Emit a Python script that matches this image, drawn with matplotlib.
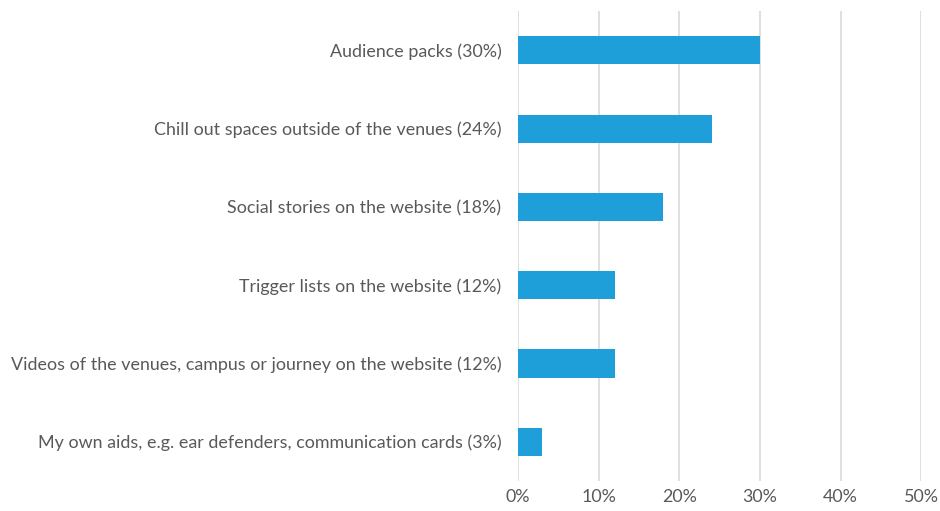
import matplotlib.pyplot as plt
from matplotlib.ticker import PercentFormatter

plt.rcParams['font.family'] = ['Lato', 'DejaVu Sans']

# data
categories = [
    'Audience packs (30%)',
    'Chill out spaces outside of the venues (24%)',
    'Social stories on the website (18%)',
    'Trigger lists on the website (12%)',
    'Videos of the venues, campus or journey on the website (12%)',
    'My own aids, e.g. ear defenders, communication cards (3%)',
]
values = [30, 24, 18, 12, 12, 3]
x_ticks = [0, 10, 20, 30, 40, 50]

text_col = '#595959'

fig = plt.figure(figsize=(9.4, 5.11), dpi=100)
ax = fig.add_axes([0.551, 0.059, 0.429, 0.919])

pos = list(range(len(categories)))
ax.barh(pos, values, height=0.36, color='#1F9FDA', zorder=3)
ax.set_ylim(len(categories) - 0.5, -0.5)
ax.set_xlim(0, 50)
ax.set_yticks(pos)
ax.set_yticklabels(categories, fontsize=12.9, color=text_col)
ax.set_xticks(x_ticks)
ax.xaxis.set_major_formatter(PercentFormatter(decimals=0))
ax.tick_params(axis='x', labelsize=12.9, labelcolor=text_col, length=0, pad=6)
ax.tick_params(axis='y', length=0, pad=12)
ax.grid(axis='x', color='#D9D9D9', linewidth=1.2, zorder=0)
for s in ax.spines.values():
    s.set_visible(False)

fig.savefig('out.png', dpi=100)
